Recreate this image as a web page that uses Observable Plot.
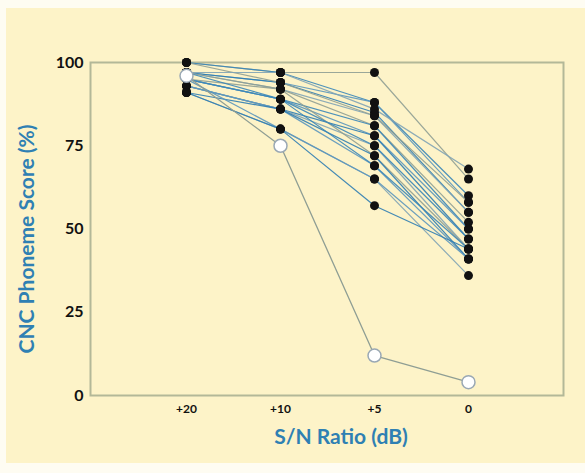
<!DOCTYPE html>
<html>
<head>
<meta charset="utf-8">
<script src="https://cdn.jsdelivr.net/npm/d3@7"></script>
<script src="https://cdn.jsdelivr.net/npm/@observablehq/plot@0.6"></script>
<style>
  html, body { margin: 0; padding: 0; background: #fefcf2; width: 585px; height: 473px; overflow: hidden; }
  #chart { position: absolute; left: 6px; top: 8px; width: 579px; height: 455px; background: #fdf3c8; }
  #chart svg { background: transparent; display: block; }
</style>
</head>
<body>
<div id="chart"></div>
<script>
// S/N conditions (categories)
const snrLevels = ["+20", "+10", "+5", "0"];
const yTicks = [0, 25, 50, 75, 100];

// CNC phoneme scores (%) of each listener at each S/N ratio (same subject order in each array)
const score20 = [100, 100, 97, 97, 97, 95, 95, 95, 93, 93, 97, 95, 93, 91, 91, 100, 97, 95, 91, 97];
const score10 = [97, 97, 94, 94, 92, 92, 89, 89, 86, 86, 92, 89, 86, 86, 80, 94, 89, 80, 80, 97];
const score5  = [97, 88, 88, 85, 84, 81, 81, 78, 78, 75, 72, 75, 69, 72, 65, 84, 69, 65, 57, 86];
const score0  = [65, 60, 58, 55, 55, 52, 50, 50, 47, 44, 44, 47, 41, 41, 36, 58, 44, 41, 44, 68];

// the outlying listener (open circles)
const outlierScores = [96, 75, 12, 4];

const lineColors = ["#8f9e94", "#3a86b8", "#5b96bd", "#2f7db2", "#7fa3b5"];

const rows = [];
score20.forEach((_, i) => {
  [score20[i], score10[i], score5[i], score0[i]].forEach((v, j) => {
    rows.push({id: i, snr: snrLevels[j], score: v, color: lineColors[i % lineColors.length]});
  });
});
const outlierRows = outlierScores.map((v, j) => ({snr: snrLevels[j], score: v}));

const font = "Lato, 'Open Sans', sans-serif";
const blue = "#2f80b3";

const chart = Plot.plot({
  width: 579,
  height: 455,
  marginLeft: 84,
  marginTop: 54,
  marginRight: 22,
  marginBottom: 68,
  style: {fontFamily: font, fontWeight: "bold", background: "transparent", color: "#111"},
  x: {type: "point", domain: snrLevels, padding: 1},
  y: {domain: [0, 100]},
  marks: [
    Plot.frame({stroke: "#b3b898", strokeWidth: 2}),
    Plot.axisY({ticks: yTicks, tickSize: 0, tickPadding: 7, label: null, fontSize: 16, fontWeight: "bold"}),
    Plot.axisX({tickSize: 0, tickPadding: 9, label: null, fontSize: 12, fontWeight: "bold"}),
    Plot.line(rows, {x: "snr", y: "score", z: "id", stroke: "color", strokeWidth: 1.2, strokeOpacity: 0.9}),
    Plot.line(outlierRows, {x: "snr", y: "score", stroke: "#8f9e94", strokeWidth: 1.3}),
    Plot.dot(rows, {x: "snr", y: "score", r: 4.5, fill: "#111", stroke: "none"}),
    Plot.dot(outlierRows, {x: "snr", y: "score", r: 6.5, fill: "white", stroke: "#9aa8b4", strokeWidth: 1.5}),
    Plot.text(["S/N Ratio (dB)"], {frameAnchor: "bottom", dx: 14, dy: 48, fill: blue, fontSize: 21, fontWeight: "bold", fontFamily: font}),
    Plot.text(["CNC Phoneme Score (%)"], {frameAnchor: "left", textAnchor: "middle", rotate: -90, dx: -63, dy: 10, fill: blue, fontSize: 21, fontWeight: "bold", fontFamily: font})
  ]
});
document.getElementById("chart").appendChild(chart);
</script>
</body>
</html>
